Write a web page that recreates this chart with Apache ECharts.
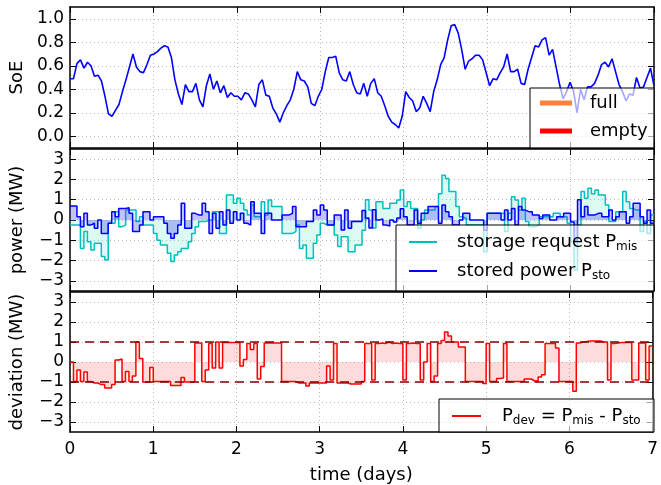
<!DOCTYPE html>
<html>
<head>
<meta charset="utf-8">
<script src="https://cdn.jsdelivr.net/npm/echarts@6/dist/echarts.min.js"></script>
<style>
  html, body { margin: 0; padding: 0; background: #fff; }
  #chart { width: 661px; height: 485px; }
</style>
</head>
<body>
<div id="chart"></div>
<script>
// Time axis (days) and tick values
const dayTicks = [0, 1, 2, 3, 4, 5, 6, 7];
const soeTicks = [0.0, 0.2, 0.4, 0.6, 0.8, 1.0];
const powerTicks = [-3, -2, -1, 0, 1, 2, 3];
const devLimits = [-1, 1];

// State of energy, hourly samples over one week
const soe = [
  0.49,0.49,0.62,0.65,0.58,0.63,0.60,0.51,0.52,0.47,
  0.34,0.19,0.17,0.22,0.27,0.38,0.48,0.59,0.70,0.59,
  0.55,0.54,0.61,0.69,0.70,0.72,0.75,0.77,0.76,0.67,
  0.48,0.36,0.27,0.44,0.38,0.38,0.45,0.31,0.25,0.43,
  0.53,0.40,0.47,0.37,0.43,0.33,0.37,0.34,0.34,0.31,
  0.37,0.36,0.31,0.25,0.44,0.48,0.35,0.34,0.24,0.19,
  0.12,0.20,0.26,0.31,0.40,0.55,0.48,0.47,0.42,0.28,
  0.26,0.34,0.40,0.55,0.67,0.67,0.68,0.54,0.48,0.47,
  0.55,0.44,0.37,0.36,
  0.45,0.34,0.45,0.49,0.37,0.34,0.26,0.17,0.12,
  0.10,0.07,0.17,0.38,0.33,0.30,0.21,0.24,0.34,0.28,
  0.21,0.38,0.48,0.61,0.67,0.82,0.94,0.95,0.88,0.74,
  0.57,0.64,0.66,0.69,0.69,0.65,0.54,0.43,0.49,0.48,
  0.54,0.59,0.70,0.55,0.55,0.57,0.45,0.44,0.57,0.67,
  0.77,0.76,0.82,0.84,0.69,0.74,0.59,0.44,0.32,0.38,
  0.46,0.38,0.20,0.40,0.31,0.42,0.42,0.45,0.52,0.61,
  0.63,0.59,0.66,0.55,0.44,0.38,0.30,0.36,0.35,0.50,
  0.41,0.42,0.50,0.58,0.43
];

// Storage request P_mis (MW), hourly
const pMis = [
  -0.25,-0.25,-0.25,-1.40,-0.57,-1.07,-1.48,-1.15,-1.15,-1.80,
  -1.97,-0.16,-0.16,0.41,-0.33,-0.25,0.49,0.49,0.49,-0.08,
  0.16,-0.25,-0.25,-0.25,-0.66,-1.00,-1.23,-1.23,-1.64,-2.05,
  -1.72,-1.56,-1.40,-1.40,-1.07,-0.66,-0.33,-0.08,-0.08,0.00,
  0.00,0.41,0.41,-0.66,-0.66,1.23,1.23,0.82,1.07,0.82,
  0.49,0.25,0.74,0.16,0.16,0.90,0.25,0.98,0.66,0.66,
  0.66,-0.66,-0.66,-0.66,-0.57,-0.25,-1.40,-1.23,-1.89,-1.89,
  -1.15,-0.74,-0.16,-0.25,-0.25,-0.25,-0.74,-1.31,-0.82,-0.82,
  -1.56,-1.56,-1.23,-1.23,
  -0.50,1.00,0.49,-0.40,0.90,0.90,0.57,0.57,0.82,0.82,
  0.98,1.48,0.66,0.90,0.57,0.57,-0.41,0.00,0.49,0.49,
  0.49,0.66,1.30,2.20,2.05,1.40,1.40,0.66,0.16,0.08,
  -0.25,-0.25,-0.25,-0.25,-0.25,-1.56,0.33,0.33,0.33,0.33,
  0.33,-0.57,0.33,1.15,0.98,0.49,1.07,-0.08,-0.33,-0.33,
  -0.25,0.16,0.16,0.16,0.16,0.33,0.33,0.16,0.16,-0.16,
  -1.07,-2.46,-0.25,1.40,1.07,1.56,1.30,1.48,1.23,1.23,
  0.74,-0.08,-0.08,0.41,0.41,1.40,0.90,0.57,0.49,0.49,
  -0.57,-0.08,-0.66,0.25
];

// Stored power P_sto (MW), hourly
const pSto = [
  0.69,0.69,0.16,-0.33,0.33,-0.25,-0.16,-0.41,0.00,-0.66,
  -0.66,-0.16,0.41,0.16,0.57,0.57,0.60,0.33,-0.57,-0.57,
  -0.25,0.41,0.41,0.00,0.16,0.16,0.16,-0.16,-0.66,-0.90,
  -0.66,-0.25,0.82,-0.41,-0.41,0.33,0.25,0.25,0.82,0.41,
  -0.66,0.33,-0.41,0.41,-0.25,0.49,-0.16,0.41,0.00,0.33,
  -0.16,-0.25,0.90,0.33,0.33,-0.66,0.33,0.33,0.00,0.00,
  0.00,0.25,0.25,0.33,0.66,-0.33,-0.33,-0.33,-0.08,-0.08,
  0.49,0.25,0.74,0.49,-0.25,-0.25,0.25,0.25,-0.49,0.49,
  -0.41,-0.08,-0.08,-0.08,
  0.47,0.10,-0.40,0.50,0.00,0.05,-0.25,-0.30,0.00,-0.10,
  0.10,0.55,0.16,-0.25,-0.25,0.49,-0.16,0.33,0.33,0.66,
  0.66,0.66,-0.16,0.74,0.41,0.16,-0.25,-0.25,0.00,0.33,
  0.33,0.00,0.00,0.00,0.00,-0.50,0.33,0.33,0.33,0.33,
  0.00,0.49,0.00,0.57,-0.25,0.66,0.49,0.41,0.41,0.25,
  0.25,0.08,0.25,0.25,0.00,0.00,0.16,0.16,0.33,0.33,
  -0.10,-1.00,1.00,0.16,0.66,0.25,0.25,0.33,0.33,0.16,
  0.16,0.49,0.00,0.16,0.41,0.41,-0.16,0.16,0.82,0.82,
  0.16,-0.16,0.49,-0.16
];

// Deviation P_dev (MW), hourly
const pDev = [
  0.00,-0.97,-0.40,-0.97,-0.50,-0.97,-1.05,-1.05,-1.13,-1.13,
  -1.30,-1.30,-1.13,0.10,0.15,-0.97,-0.48,-0.97,-0.70,1.00,
  0.18,-1.00,-1.00,-0.28,-0.97,-0.97,-0.97,-0.97,-0.97,-1.18,
  -1.18,-1.18,-0.77,-1.00,-1.00,-1.00,0.95,0.95,-0.97,-0.40,
  0.92,-0.30,1.00,-0.30,0.97,0.97,0.97,0.97,0.97,-0.20,
  0.13,0.92,0.62,0.92,-0.85,-0.23,0.95,0.95,0.95,0.95,
  0.95,-0.97,-0.97,-0.97,-0.97,-1.05,-1.05,-1.05,-1.20,-1.05,
  -1.05,-1.05,-1.05,-1.05,-0.20,-0.90,0.92,-1.05,-1.05,-1.05,
  -1.10,-1.10,-1.10,-1.10,
  -0.97,0.92,0.92,-0.90,0.92,0.95,0.92,1.00,0.92,0.95,
  0.92,0.92,-0.90,0.92,0.95,0.92,0.92,-0.90,0.00,0.92,
  -0.97,-0.70,0.92,1.08,1.50,1.30,1.00,1.00,0.75,0.75,
  -0.97,-0.97,-0.97,-0.97,-0.97,-1.08,0.92,-0.97,-0.97,-0.82,
  -0.80,0.92,-0.97,-0.97,-0.97,-0.97,-0.97,-0.85,-0.85,-0.95,
  -0.95,-0.75,-0.64,0.92,0.92,0.92,0.70,-0.97,-0.97,-0.97,
  -0.97,-1.46,0.95,1.00,1.02,1.05,1.05,1.05,1.05,1.00,
  1.00,-0.90,0.92,0.95,0.97,0.97,0.97,0.97,-0.90,-0.90,
  0.95,0.95,-0.90,0.80
];

// ---- helpers -------------------------------------------------------------
const FONT = 'DejaVu Sans';
const HOURS_PER_DAY = 24;

// Line points with time in days
function linePoints(vals) {
  const n = vals.length;
  return vals.map((v, i) => [i * 7 / (n - 1), v]);
}
// Step points: each hourly value holds until the next hour
function stepPoints(vals) {
  const pts = vals.map((v, i) => [i / HOURS_PER_DAY, v]);
  pts.push([vals.length / HOURS_PER_DAY, vals[vals.length - 1]]);
  return pts;
}
function fmtMinus(v, digits) {
  const s = Math.abs(v).toFixed(digits);
  return v < 0 ? '\u2212' + s : s;
}

const gridLeft = 70, gridW = 584;
const grids = [
  { left: gridLeft, top: 7,   width: gridW, height: 141 },
  { left: gridLeft, top: 149, width: gridW, height: 142 },
  { left: gridLeft, top: 292, width: gridW, height: 140 }
];

const tickStyle = { show: true, inside: true, length: 6, lineStyle: { color: '#000', width: 1 } };
const gridLine = { show: true, lineStyle: { color: '#b8b8b8', type: [1, 3], width: 1 } };
const labelFont = { fontFamily: FONT, fontSize: 17, color: '#000' };

const xAxes = [];
const yAxes = [];
grids.forEach((g, gi) => {
  // bottom axis (labels only on the last panel)
  xAxes.push({
    type: 'value', gridIndex: gi, min: 0, max: 7, interval: 1, position: 'bottom',
    axisLine: { show: true, onZero: false, lineStyle: { color: '#000', width: 1.5 } },
    axisTick: tickStyle,
    axisLabel: Object.assign({ show: gi === 2, margin: 9, formatter: v => String(v) }, labelFont),
    splitLine: gridLine,
    name: gi === 2 ? 'time (days)' : '',
    nameLocation: 'middle', nameGap: 34,
    nameTextStyle: { fontFamily: FONT, fontSize: 18, color: '#000' }
  });
  // top axis: ticks only
  xAxes.push({
    type: 'value', gridIndex: gi, min: 0, max: 7, interval: 1, position: 'top',
    axisLine: { show: true, onZero: false, lineStyle: { color: '#000', width: 1.5 } },
    axisTick: tickStyle, axisLabel: { show: false }, splitLine: { show: false }
  });
});

const yDefs = [
  { min: -0.1, max: 1.1, ticks: soeTicks, digits: 1, name: 'SoE' },
  { min: -3.5, max: 3.5, ticks: powerTicks, digits: 0, name: 'power (MW)' },
  { min: -3.5, max: 3.5, ticks: powerTicks, digits: 0, name: 'deviation (MW)' }
];
yDefs.forEach((d, gi) => {
  yAxes.push({
    type: 'value', gridIndex: gi, min: d.min, max: d.max, position: 'left',
    axisLine: { show: true, onZero: false, lineStyle: { color: '#000', width: 1.5 } },
    axisTick: Object.assign({ customValues: d.ticks }, tickStyle),
    axisLabel: Object.assign({ customValues: d.ticks, margin: 6, formatter: v => fmtMinus(v, d.digits) }, labelFont),
    splitLine: Object.assign({ customValues: d.ticks }, gridLine),
    name: d.name, nameLocation: 'middle', nameRotate: 90, nameGap: 44,
    nameTextStyle: { fontFamily: FONT, fontSize: 18, color: '#000' }
  });
  yAxes.push({
    type: 'value', gridIndex: gi, min: d.min, max: d.max, position: 'right',
    axisLine: { show: true, onZero: false, lineStyle: { color: '#000', width: 1.5 } },
    axisTick: Object.assign({ customValues: d.ticks }, tickStyle),
    axisLabel: { show: false }, splitLine: { show: false }
  });
});

const series = [
  {
    name: 'SoE', type: 'line', xAxisIndex: 0, yAxisIndex: 0,
    data: linePoints(soe), showSymbol: false, symbol: 'none',
    lineStyle: { color: '#0000ff', width: 1.6 }, z: 3
  },
  {
    name: 'storage request', type: 'line', xAxisIndex: 2, yAxisIndex: 2,
    data: stepPoints(pMis), step: 'end', showSymbol: false, symbol: 'none',
    lineStyle: { color: '#00bfbf', width: 1.5 },
    areaStyle: { color: 'rgba(110,235,200,0.35)', origin: 0 }, z: 3
  },
  {
    name: 'stored power', type: 'line', xAxisIndex: 2, yAxisIndex: 2,
    data: stepPoints(pSto), step: 'end', showSymbol: false, symbol: 'none',
    lineStyle: { color: '#0000ff', width: 1.5 },
    areaStyle: { color: 'rgba(50,50,235,0.42)', origin: 0 }, z: 4
  },
  {
    name: 'deviation', type: 'line', xAxisIndex: 4, yAxisIndex: 4,
    data: stepPoints(pDev), step: 'end', showSymbol: false, symbol: 'none',
    lineStyle: { color: '#ff0000', width: 1.5 },
    areaStyle: { color: 'rgba(255,0,0,0.2)', origin: 0 }, z: 4,
    markLine: {
      silent: true, symbol: 'none', label: { show: false },
      lineStyle: { color: '#800000', type: [9, 6], width: 1.5 },
      data: devLimits.map(v => ({ yAxis: v }))
    }
  }
];

// Legend boxes
const subRich = {
  m: { fontFamily: FONT, fontSize: 18, color: '#000' },
  s: { fontFamily: FONT, fontSize: 12, color: '#000', padding: [9, 0, 0, 0] }
};
function legendBox(x, y, w, h) {
  return { type: 'rect', shape: { x, y, width: w, height: h }, z: 100,
    style: { fill: 'rgba(255,255,255,0.65)', stroke: '#000', lineWidth: 1 } };
}
function legendLine(x1, x2, y, color, width) {
  return { type: 'line', shape: { x1, y1: y, x2, y2: y }, z: 101,
    style: { stroke: color, lineWidth: width } };
}
function legendText(x, y, text) {
  return { type: 'text', x, y, z: 101,
    style: { text, rich: subRich, fontFamily: FONT, fontSize: 18, fill: '#000', verticalAlign: 'middle', align: 'left' } };
}

const graphic = [
  legendBox(530, 88, 124, 60),
  legendLine(540, 572, 103, '#ff7f3f', 5),
  legendText(590, 103, '{m|full}'),
  legendLine(540, 572, 131, '#ff0000', 5),
  legendText(590, 131, '{m|empty}'),

  legendBox(396, 225, 258, 66),
  legendLine(409, 437, 242, '#00bfbf', 2),
  legendText(457, 242, '{m|storage request P}{s|mis}'),
  legendLine(409, 437, 271, '#0000ff', 2),
  legendText(457, 271, '{m|stored power P}{s|sto}'),

  legendBox(439, 399, 215, 33),
  legendLine(452, 481, 416, '#ff0000', 2),
  legendText(502, 416, '{m|P}{s|dev}{m| = P}{s|mis}{m| - P}{s|sto}')
];

const chart = echarts.init(document.getElementById('chart'), null, { renderer: 'canvas' });
chart.setOption({
  animation: false,
  backgroundColor: '#fff',
  textStyle: { fontFamily: FONT },
  grid: grids,
  xAxis: xAxes,
  yAxis: yAxes,
  series,
  graphic
});
</script>
</body>
</html>
